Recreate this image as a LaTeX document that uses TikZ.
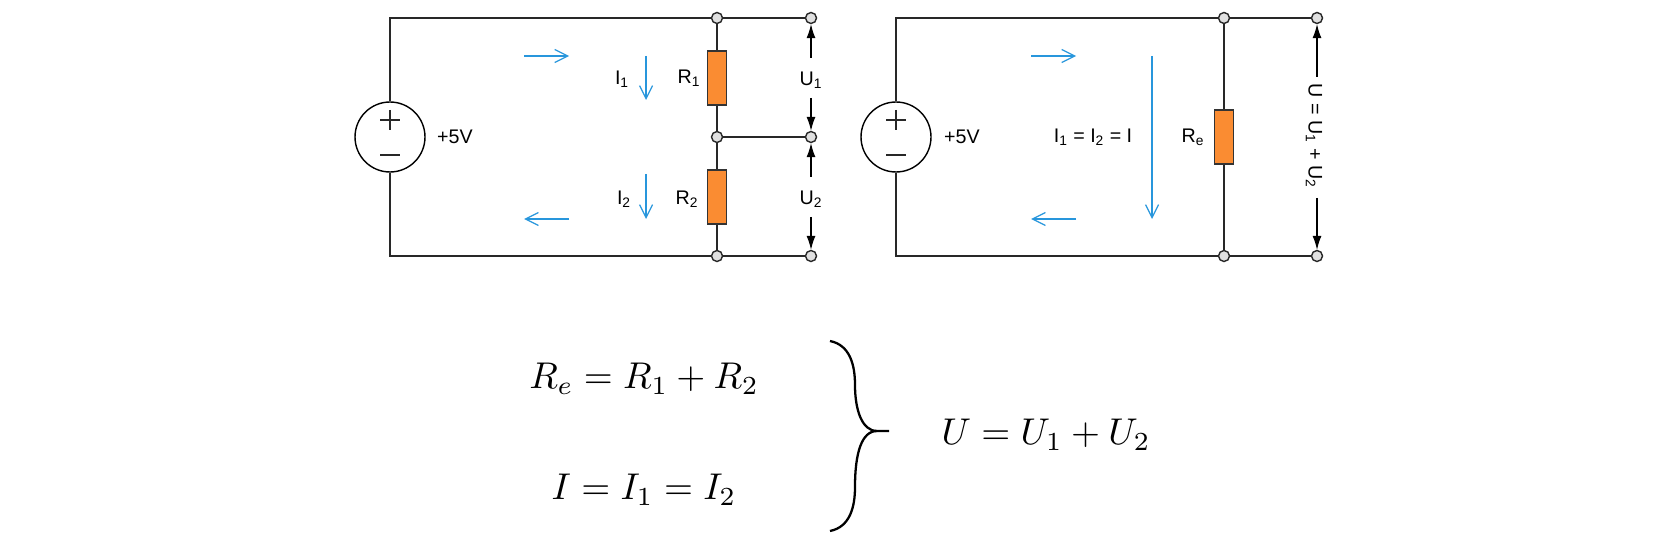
\documentclass[tikz,border=0pt]{standalone}
\usepackage{amsmath}
\usepackage{fontspec}
\setmainfont{Liberation Sans}
\usetikzlibrary{arrows.meta,calc}
\definecolor{wirecol}{RGB}{40,40,40}
\definecolor{currcol}{RGB}{40,150,220}
\definecolor{rescol}{RGB}{250,140,50}
\tikzset{
    wire/.style={draw=wirecol,line width=0.8pt},
    terminal/.style={circle,draw=wirecol,fill=black!12,line width=0.8pt,minimum size=0.22cm,inner sep=0pt},
    resistor/.style={rectangle,draw=black!80,fill=rescol,line width=0.8pt,minimum width=0.37cm,minimum height=1.08cm,inner sep=0pt},
    source/.style={circle,draw=black,fill=white,line width=0.8pt,minimum size=1.4cm,inner sep=0pt},
    curr/.style={draw=currcol,line width=0.7pt,-{Straight Barb[length=2.6mm,width=2.6mm]}},
    volt/.style={draw=black,line width=0.6pt,-{Latex[length=2.8mm,width=1.8mm]}},
    lbl/.style={font=\fontsize{11.2}{13}\selectfont,inner sep=0pt},
    eqn/.style={scale=2.12,inner sep=0pt}
}
\begin{document}
\begin{tikzpicture}[x=0.02cm,y=-0.02cm]
    \useasboundingbox (0,0) rectangle (1680,547);
    % left circuit
    \node[source] (V1) at (390,137) {};
    \coordinate (TL1) at (390,18);
    \coordinate (BL1) at (390,256);
    \node[terminal] (T1) at (717,18) {};
    \node[terminal] (M1) at (717,137) {};
    \node[terminal] (B1) at (717,256) {};
    \node[terminal] (T2) at (811,18) {};
    \node[terminal] (M2) at (811,137) {};
    \node[terminal] (B2) at (811,256) {};
    \node[resistor] (R1) at (717,78) {};
    \node[resistor] (R2) at (717,197) {};
    \draw[wire] (V1) -- (TL1) -- (T1);
    \draw[wire] (V1) -- (BL1) -- (B1);
    \draw[wire] (T1) -- (R1);
    \draw[wire] (R1) -- (M1);
    \draw[wire] (M1) -- (R2);
    \draw[wire] (R2) -- (B1);
    \draw[wire] (T1) -- (T2);
    \draw[wire] (M1) -- (M2);
    \draw[wire] (B1) -- (B2);
    \draw[wire] (380,120) -- (400,120) (390,110) -- (390,130);
    \draw[wire] (380,155) -- (400,155);
    \node[lbl] (E1) at (455,137) {+5V};
    \node[lbl] (LI1) at (622,79) {I\textsubscript{1}};
    \node[lbl] (LI2) at (624,199) {I\textsubscript{2}};
    \node[lbl] (LR1) at (689,78) {R\textsubscript{1}};
    \node[lbl] (LR2) at (687,199) {R\textsubscript{2}};
    \node[lbl] (LU1) at (811,80) {U\textsubscript{1}};
    \node[lbl] (LU2) at (811,199) {U\textsubscript{2}};
    \draw[volt] (811,58) -- (T2);
    \draw[volt] (811,98) -- (M2);
    \draw[volt] (811,177) -- (M2);
    \draw[volt] (811,217) -- (B2);
    \draw[curr] (524,56) -- (569,56);
    \draw[curr] (569,219) -- (524,219);
    \draw[curr] (646,56) -- (646,100);
    \draw[curr] (646,174) -- (646,219);
    % right circuit
    \node[source] (V2) at (896,137) {};
    \coordinate (TL2) at (896,18);
    \coordinate (BL2) at (896,256);
    \node[terminal] (T3) at (1224,18) {};
    \node[terminal] (B3) at (1224,256) {};
    \node[terminal] (T4) at (1317,18) {};
    \node[terminal] (B4) at (1317,256) {};
    \node[resistor] (Re) at (1224,137) {};
    \draw[wire] (V2) -- (TL2) -- (T3);
    \draw[wire] (V2) -- (BL2) -- (B3);
    \draw[wire] (T3) -- (Re);
    \draw[wire] (Re) -- (B3);
    \draw[wire] (T3) -- (T4);
    \draw[wire] (B3) -- (B4);
    \draw[wire] (886,120) -- (906,120) (896,110) -- (896,130);
    \draw[wire] (886,155) -- (906,155);
    \node[lbl] (E2) at (962,137) {+5V};
    \node[lbl] (LI) at (1093,137) {I\textsubscript{1} = I\textsubscript{2} = I};
    \node[lbl] (LRe) at (1193,137) {R\textsubscript{e}};
    \node[lbl,rotate=-90] (LU) at (1314,136) {U = U\textsubscript{1} + U\textsubscript{2}};
    \draw[volt] (1317,77) -- (T4);
    \draw[volt] (1317,198) -- (B4);
    \draw[curr] (1031,56) -- (1076,56);
    \draw[curr] (1076,219) -- (1031,219);
    \draw[curr] (1152,56) -- (1152,219);
    % equations
    \node[eqn] (EqR) at (644,379) {$R_e = R_1 + R_2$};
    \node[eqn] (EqI) at (644,490) {$I = I_1 = I_2$};
    \node[eqn] (EqU) at (1046,435) {$U = U_1 + U_2$};
    \coordinate (BrT) at (830,341);
    \coordinate (BrM) at (889,431);
    \coordinate (BrB) at (830,531);
    \draw[black,line width=1.3pt] (BrT) .. controls (850,345) and (855,365) .. (855,385)
        .. controls (855,410) and (862,431) .. (877,431) -- (BrM);
    \draw[black,line width=1.3pt] (BrB) .. controls (850,527) and (855,507) .. (855,487)
        .. controls (855,452) and (862,431) .. (877,431);
\end{tikzpicture}
\end{document}
